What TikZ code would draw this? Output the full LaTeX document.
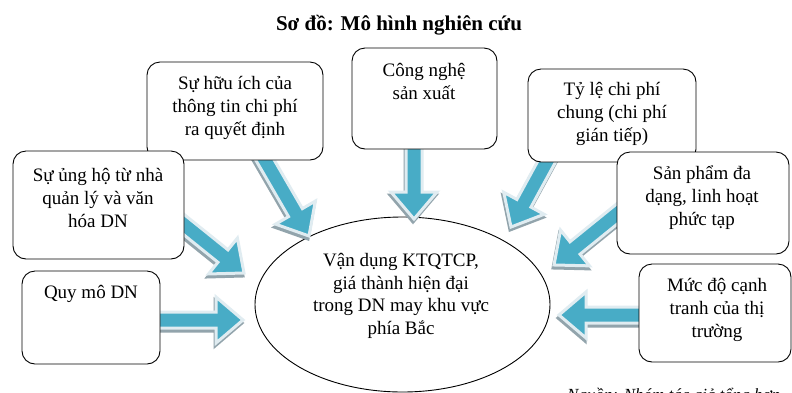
\documentclass[tikz,border=0pt]{standalone}
\usepackage{fontspec}
\setmainfont{Liberation Serif}
\usetikzlibrary{calc,shapes.geometric}
\definecolor{arrblue}{RGB}{72,172,198}
\definecolor{arredge}{RGB}{224,236,241}
\definecolor{arrshadow}{RGB}{146,164,172}
\newcommand\blockarrow[2]{%
  \path let \p1=(#1), \p2=(#2) in \pgfextra{%
    \pgfmathsetmacro\arang{atan2(\y2-\y1,\x2-\x1)}%
    \pgfmathsetmacro\arlen{veclen(\x2-\x1,\y2-\y1)}%
    \pgfmathsetmacro\arhd{\arlen-27}%
    \global\let\arangG\arang \global\let\arlenG\arlen \global\let\arhdG\arhd};
  \begin{scope}[shift={($(#1)+(-1pt,-3pt)$)}, rotate=\arangG]
    \filldraw[arrshadow, line width=3pt, line join=miter]
      (0pt,-8pt) -- (\arhdG pt,-8pt) -- (\arhdG pt,-23pt) -- (\arlenG pt,0pt)
      -- (\arhdG pt,23pt) -- (\arhdG pt,8pt) -- (0pt,8pt) -- cycle;
  \end{scope}
  \begin{scope}[shift={(#1)}, rotate=\arangG]
    \filldraw[fill=arrblue, draw=arredge, line width=3pt, line join=miter]
      (0pt,-8pt) -- (\arhdG pt,-8pt) -- (\arhdG pt,-23pt) -- (\arlenG pt,0pt)
      -- (\arhdG pt,23pt) -- (\arhdG pt,8pt) -- (0pt,8pt) -- cycle;
  \end{scope}}
\tikzset{
  box/.style={draw=black, line width=0.9pt, rounded corners=13pt, fill=white, inner sep=0pt},
  txt/.style={align=center, inner sep=0pt, font=\fontsize{19}{23}\selectfont},
  ttl/.style={inner sep=0pt, font=\fontsize{21}{24}\selectfont\bfseries},
  src/.style={inner sep=0pt, font=\fontsize{17}{20}\selectfont\itshape}
}
\begin{document}
\begin{tikzpicture}[x=1pt, y=-1pt]
\useasboundingbox (0,0) rectangle (792,392);
\clip (0,0) rectangle (792,392);
\fill[white] (0,0) rectangle (792,392);

\node[ttl] (title) at (399,25) {Sơ đồ: Mô hình nghiên cứu};

% central ellipse
\node[draw=black, line width=0.9pt, ellipse, minimum width=295pt, minimum height=175pt, inner sep=0pt] (c) at (402.5,304.5) {};
\node[txt, font=\fontsize{19}{22.5}\selectfont] (ct) at (401,296) {Vận dụng KTQTCP,\\giá thành hiện đại\\trong DN may khu vực\\phía Bắc};

% arrow coordinates
\coordinate (a1s) at (258,148); \coordinate (a1e) at (309,236);
\coordinate (a2s) at (414,140); \coordinate (a2e) at (414,219);
\coordinate (a3s) at (553,150); \coordinate (a3e) at (511,227);
\coordinate (a4s) at (628,205); \coordinate (a4e) at (554,265);
\coordinate (a5s) at (650,315); \coordinate (a5e) at (559,315);
\coordinate (a6s) at (150,320); \coordinate (a6e) at (243,320);
\coordinate (a7s) at (172,215); \coordinate (a7e) at (244,273);

\blockarrow{a1s}{a1e}
\blockarrow{a2s}{a2e}
\blockarrow{a3s}{a3e}
\blockarrow{a4s}{a4e}
\blockarrow{a5s}{a5e}
\blockarrow{a6s}{a6e}
\blockarrow{a7s}{a7e}

% boxes
\node[box, minimum width=176pt, minimum height=98pt] (b1) at (235,111) {};
\node[txt] (t1) at (235,108) {Sự hữu ích của\\thông tin chi phí\\ra quyết định};

\node[box, minimum width=145pt, minimum height=101pt] (b2) at (424.5,98.5) {};
\node[txt] (t2) at (424,81.5) {Công nghệ\\sản xuất};

\node[box, minimum width=168pt, minimum height=93pt] (b3) at (612,115.5) {};
\node[txt] (t3) at (612,114) {Tỷ lệ chi phí\\chung (chi phí\\gián tiếp)};

\node[box, minimum width=172pt, minimum height=102pt] (b4) at (703,203) {};
\node[txt] (t4) at (702,198) {Sản phẩm đa\\dạng, linh hoạt\\phức tạp};

\node[box, minimum width=152pt, minimum height=98pt] (b5) at (715,313) {};
\node[txt] (t5) at (717,310) {Mức độ cạnh\\tranh của thị\\trường};

\node[box, minimum width=171pt, minimum height=108pt] (b6) at (98.5,205) {};
\node[txt] (t6) at (98,198) {Sự ủng hộ từ nhà\\quản lý và văn\\hóa DN};

\node[box, minimum width=138pt, minimum height=93pt] (b7) at (91,317.5) {};
\node[txt] (t7) at (91,294) {Quy mô DN};

\node[src, anchor=base west] (s) at (567,400) {Nguồn: Nhóm tác giả tổng hợp};
\end{tikzpicture}
\end{document}
